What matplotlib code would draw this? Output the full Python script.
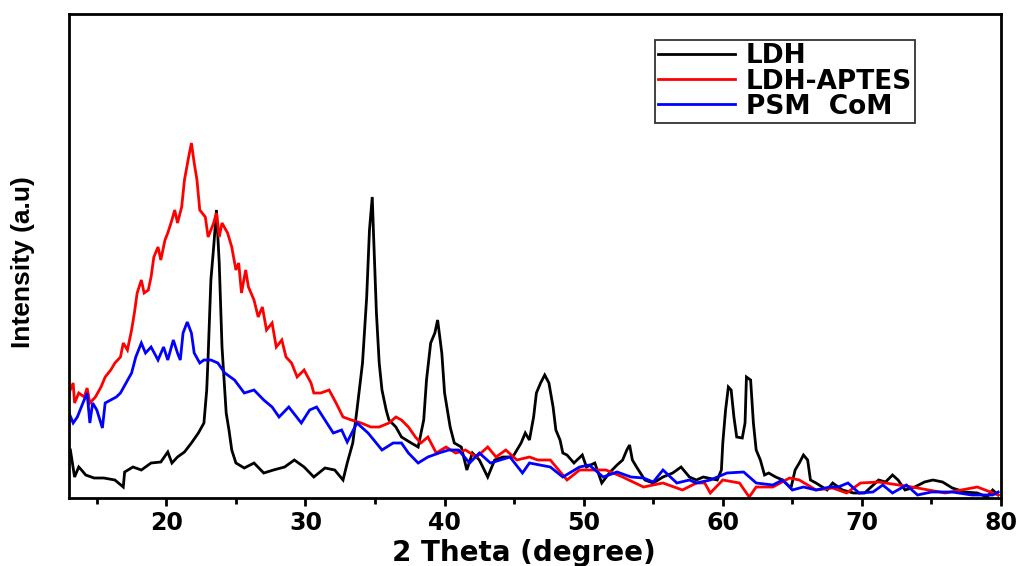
import matplotlib
matplotlib.use("Agg")
import matplotlib.pyplot as plt
from matplotlib.ticker import MultipleLocator

# ---------------- data ----------------
ldh_2theta = [
    13.1, 13.4, 13.7, 13.9, 14.2, 14.8, 15.5, 16.3, 16.9, 17.0,
    17.6, 18.2, 18.9, 19.6, 20.1, 20.4, 20.8, 21.3, 21.8, 22.3,
    22.7, 22.9, 23.0, 23.2, 23.4, 23.6, 23.8, 24.0, 24.3, 24.5,
    24.7, 25.0, 25.6, 26.3, 27.0, 27.7, 28.5, 29.2, 29.9, 30.6,
    31.4, 32.1, 32.7, 33.0, 33.4, 33.7, 34.1, 34.4, 34.6, 34.8,
    34.9, 35.1, 35.3, 35.5, 35.8, 36.0, 36.5, 36.9, 37.6, 38.1,
    38.5, 38.7, 39.0, 39.3, 39.5, 39.8, 40.0, 40.4, 40.7, 41.2,
    41.6, 42.0, 42.5, 43.1, 43.6, 44.2, 44.9, 45.5, 45.8, 46.1,
    46.4, 46.6, 46.9, 47.2, 47.5, 47.8, 48.0, 48.3, 48.5, 48.8,
    49.3, 49.9, 50.2, 50.8, 51.3, 51.9, 52.4, 52.8, 53.1, 53.3,
    53.5, 53.8, 54.4, 55.0, 55.7, 56.4, 57.0, 57.6, 58.1, 58.6,
    59.6, 59.9, 60.0, 60.2, 60.4, 60.6, 60.8, 61.0, 61.4, 61.6,
    61.7, 62.0, 62.2, 62.4, 62.7, 63.0, 63.3, 63.8, 64.3, 64.9,
    65.2, 65.5, 65.8, 66.1, 66.3, 66.7, 67.5, 67.9, 68.6, 69.4,
    70.2, 71.2, 71.7, 72.2, 72.6, 73.1, 73.8, 74.5, 75.1, 75.8,
    76.5, 77.4, 78.3, 79.0, 79.4, 79.8,
]
ldh_intensity = [
    48, 21, 31, 28, 23, 20, 20, 18, 11, 26,
    31, 28, 35, 36, 46, 35, 41, 46, 55, 65,
    75, 108, 141, 218, 251, 288, 235, 151, 85, 68,
    48, 35, 30, 35, 25, 28, 31, 38, 31, 21,
    30, 28, 18, 35, 55, 88, 135, 201, 268, 301,
    261, 185, 135, 108, 88, 78, 71, 61, 55, 51,
    78, 118, 155, 165, 178, 145, 105, 71, 55, 51,
    28, 45, 38, 21, 38, 41, 41, 55, 65, 58,
    81, 105, 115, 123, 115, 91, 68, 58, 45, 43,
    35, 43, 31, 35, 15, 26, 33, 38, 48, 53,
    38, 31, 18, 15, 21, 25, 31, 21, 18, 21,
    18, 28, 55, 88, 111, 108, 81, 61, 60, 75,
    121, 118, 75, 48, 38, 23, 25, 21, 18, 10,
    28, 35, 43, 38, 18, 15, 8, 15, 8, 5,
    5, 18, 16, 23, 18, 8, 11, 16, 18, 16,
    10, 6, 5, 1, 8, 3,
]

aptes_2theta = [
    13.0, 13.3, 13.4, 13.7, 14.1, 14.3, 14.5, 14.9, 15.3, 15.6,
    16.0, 16.3, 16.7, 16.9, 17.2, 17.5, 17.7, 17.9, 18.2, 18.4,
    18.7, 18.9, 19.1, 19.4, 19.6, 19.9, 20.1, 20.4, 20.6, 20.8,
    21.1, 21.3, 21.6, 21.8, 22.0, 22.2, 22.4, 22.8, 23.0, 23.4,
    23.6, 23.8, 24.0, 24.4, 24.7, 25.0, 25.2, 25.4, 25.7, 25.9,
    26.3, 26.6, 26.9, 27.2, 27.6, 27.9, 28.3, 28.6, 29.0, 29.4,
    29.9, 30.4, 30.6, 31.1, 31.7, 32.2, 32.7, 33.3, 34.0, 34.7,
    35.3, 36.0, 36.5, 36.9, 37.4, 37.9, 38.3, 38.8, 39.4, 40.1,
    40.8, 41.5, 42.3, 43.1, 43.7, 44.4, 45.2, 46.1, 46.7, 47.6,
    48.8, 49.7, 51.6, 52.8, 54.3, 55.7, 57.1, 58.1, 58.7, 59.1,
    60.0, 61.2, 61.9, 62.4, 63.6, 64.8, 65.5, 66.7, 67.9, 68.9,
    69.9, 71.2, 73.6, 76.0, 78.3, 79.8,
]
aptes_intensity = [
    105, 115, 95, 105, 101, 110, 95, 101, 111, 121,
    128, 135, 141, 155, 148, 168, 185, 205, 218, 205,
    208, 221, 241, 251, 238, 258, 265, 278, 288, 275,
    291, 318, 341, 355, 335, 318, 288, 281, 261, 275,
    285, 261, 275, 265, 251, 228, 235, 205, 228, 211,
    198, 181, 191, 168, 175, 151, 158, 141, 135, 121,
    128, 115, 105, 105, 108, 95, 81, 78, 75, 71,
    71, 75, 81, 78, 71, 61, 55, 61, 45, 51,
    45, 48, 41, 51, 41, 48, 38, 41, 38, 38,
    18, 28, 28, 21, 11, 15, 8, 15, 15, 5,
    18, 15, 1, 11, 11, 20, 18, 8, 10, 5,
    15, 16, 11, 5, 11, 3,
]

psm_2theta = [
    13.0, 13.3, 13.6, 14.0, 14.3, 14.5, 14.7, 15.0, 15.4, 15.6,
    16.0, 16.4, 16.7, 17.1, 17.5, 17.8, 18.2, 18.5, 18.9, 19.4,
    19.8, 20.1, 20.5, 20.8, 21.0, 21.2, 21.5, 21.8, 22.0, 22.4,
    22.7, 23.2, 23.7, 24.2, 24.9, 25.6, 26.3, 27.0, 27.6, 28.1,
    28.8, 29.7, 30.3, 30.8, 31.4, 32.0, 32.6, 33.0, 33.7, 34.5,
    35.5, 36.3, 36.9, 37.4, 38.1, 38.8, 39.6, 40.3, 41.0, 41.8,
    42.5, 43.3, 44.0, 44.7, 45.6, 46.1, 47.6, 48.5, 49.7, 50.4,
    51.4, 52.4, 53.4, 54.3, 55.0, 55.7, 56.7, 57.6, 58.1, 59.1,
    60.3, 61.5, 62.4, 63.6, 64.3, 65.0, 65.8, 66.7, 67.7, 68.3,
    69.0, 69.8, 70.8, 71.5, 72.2, 73.2, 74.0, 75.0, 76.5, 77.9,
    79.4, 79.8,
]
psm_intensity = [
    85, 75, 81, 95, 105, 75, 95, 88, 70, 95,
    98, 101, 105, 115, 125, 141, 155, 145, 151, 138,
    151, 138, 158, 145, 138, 165, 176, 165, 145, 135,
    138, 138, 135, 125, 118, 105, 108, 98, 91, 81,
    91, 75, 88, 91, 78, 65, 68, 56, 75, 65,
    48, 55, 55, 45, 35, 41, 45, 48, 48, 35,
    45, 35, 38, 41, 25, 35, 31, 21, 31, 33,
    21, 26, 21, 20, 16, 28, 15, 18, 15, 18,
    25, 26, 15, 13, 18, 8, 11, 8, 11, 11,
    15, 5, 6, 13, 5, 13, 3, 6, 6, 3,
    3, 6,
]

series_labels = ["LDH", "LDH-APTES", "PSM  CoM"]
series_colors = ["#000000", "#FF0000", "#0000FF"]
x_ticks = [20, 30, 40, 50, 60, 70, 80]

# ---------------- figure ----------------
plt.rcParams["font.family"] = ["DejaVu Sans"]
fig = plt.figure(figsize=(10.22, 5.66), dpi=100)
ax = fig.add_axes([69 / 1022, 68 / 566, 932 / 1022, 484 / 566])

for xs, ys, lab, col in zip(
    [ldh_2theta, aptes_2theta, psm_2theta],
    [ldh_intensity, aptes_intensity, psm_intensity],
    series_labels, series_colors,
):
    ax.plot(xs, ys, color=col, lw=2.0, label=lab, solid_joinstyle="miter")

ax.set_xlim(13, 80)
ax.set_ylim(0, 484)
ax.set_xticks(x_ticks)
ax.xaxis.set_minor_locator(MultipleLocator(5))
ax.set_yticks([])
ax.tick_params(axis="x", which="major", direction="out", length=6, width=2.0,
               labelsize=17, pad=3)
ax.tick_params(axis="x", which="minor", direction="out", length=4, width=2.0)
for lab in ax.get_xticklabels():
    lab.set_fontweight("bold")
for sp in ax.spines.values():
    sp.set_linewidth(2.0)

ax.set_xlabel("2 Theta (degree)", fontsize=20, fontweight="bold", labelpad=1)
ax.xaxis.set_label_coords(0.488, -0.085)
ax.set_ylabel("Intensity (a.u)", fontsize=19, fontweight="bold",
              family=["Liberation Sans", "DejaVu Sans"])
ax.yaxis.set_label_coords(-0.036, 0.488)

leg = ax.legend(loc="upper left", bbox_to_anchor=(0.629, 0.946),
                frameon=True, fancybox=False, edgecolor="black",
                prop={"weight": "bold", "size": 19},
                handlelength=2.9, handletextpad=0.42, labelspacing=-0.03,
                borderpad=0.12, borderaxespad=0)
leg.get_frame().set_linewidth(1.3)
for line in leg.get_lines():
    line.set_linewidth(2.0)

fig.savefig("out.png", dpi=100)
